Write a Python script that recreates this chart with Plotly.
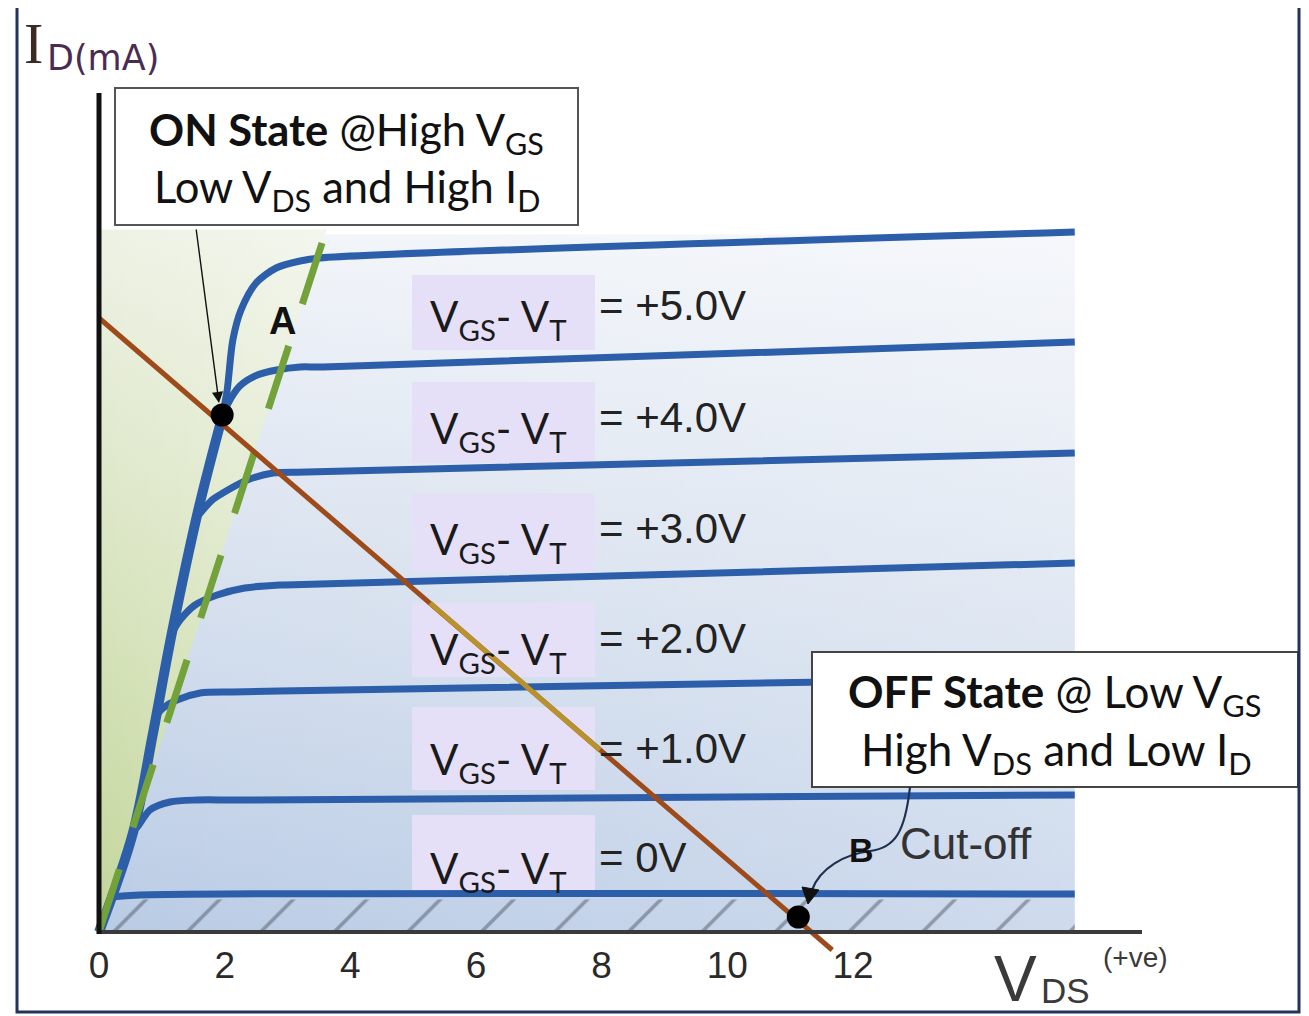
import plotly.graph_objects as go

# ---------------- data (V_DS in volts, I_D in mA) ----------------
VDS_TICKS = [0, 2, 4, 6, 8, 10, 12]
GATE_LABELS = ["+5.0V", "+4.0V", "+3.0V", "+2.0V", "+1.0V", "0V"]

# common rising (ohmic) edge of the characteristic curves
OHMIC_V = [0.0, 0.54, 0.86, 1.16, 1.58, 1.96]
OHMIC_I = [0.0, 3.96, 7.96, 11.96, 16.88, 20.6]

# output characteristics, VGS - VT = +5 ... 0 V, plus cut-off leakage curve
C5_V = [1.96, 2.04, 2.13, 2.26, 2.50, 2.82, 3.20, 3.52, 15.53]
C5_I = [20.6, 21.68, 23.68, 24.88, 25.96, 26.56, 26.84, 26.96, 28.0]
C4_V = [1.96, 2.04, 2.24, 2.52, 2.83, 3.20, 3.57, 15.53]
C4_I = [20.6, 21.08, 21.84, 22.28, 22.48, 22.6, 22.6, 23.6]
C3_V = [1.56, 1.80, 1.97, 2.36, 2.77, 3.31, 15.53]
C3_I = [16.6, 17.28, 17.56, 18.08, 18.36, 18.4, 19.16]
C2_V = [1.16, 1.29, 1.53, 1.88, 2.32, 2.88, 3.52, 15.53]
C2_I = [11.96, 12.48, 13.08, 13.48, 13.76, 13.88, 13.92, 14.76]
C1_V = [0.92, 1.02, 1.24, 1.61, 2.13, 2.88, 15.53]
C1_I = [8.68, 8.96, 9.28, 9.56, 9.6, 9.64, 10.16]
C0_V = [0.55, 0.61, 0.81, 1.13, 1.56, 2.24, 15.53]
C0_I = [4.08, 4.2, 4.88, 5.2, 5.28, 5.28, 5.48]
CUT_V = [0.19, 0.65, 15.53]
CUT_I = [1.4, 1.48, 1.52]

# saturation boundary (VDS = VGS - VT), dashed green
SAT_V = [0.0, 3.55]
SAT_I = [0.0, 27.56]

# load line and the golden-tinted stretch of it
LOAD_V = [0.0, 11.67]
LOAD_I = [24.56, -0.72]
LOAD_TINT_V = [5.27, 7.97]
LOAD_TINT_I = [13.16, 7.28]

# operating points: A (ON) and B (OFF)
Q_V = [1.96, 11.13]
Q_I = [20.68, 0.6]

# shaded regions
OHMIC_REGION_V = [0.0, 3.62, 0.0, 0.0]
OHMIC_REGION_I = [0.0, 28.1, 28.1, 0.0]
ACTIVE_REGION_V = [0.0, 15.53, 15.53, 0.0, 0.0]
ACTIVE_REGION_I = [0.0, 0.0, 27.9, 27.9, 0.0]
CUTOFF_REGION_V = [0.0, 15.53, 15.53, 0.0, 0.0]
CUTOFF_REGION_I = [0.0, 0.0, 1.3, 1.3, 0.0]

# ---------------- layout helpers (pixel geometry of the page) ----------------
PAGE_W, PAGE_H = 1309, 1016
OFF = 8                               # default body margin of the html page
W, H = PAGE_W - OFF, PAGE_H - OFF     # figure size
X0, Y0 = 99, 932                      # page-pixel position of the origin
SX, SY = 62.83, 25.0                  # px per volt, px per mA


def px2v(px):
    return (px - X0) / SX


def py2i(py):
    return (Y0 - py) / SY


def pxp(px):
    return (px - OFF) / W


def pyp(py):
    return 1 - (py - OFF) / H


BLUE = "#2c5eaa"
fig = go.Figure()

# background of the characteristic area
fig.add_trace(go.Scatter(
    x=ACTIVE_REGION_V, y=ACTIVE_REGION_I, mode="none", fill="toself",
    fillgradient=dict(type="vertical", colorscale=[[0, "#b9cbe5"], [0.55, "#d9e2ef"], [1, "#f1f4f9"]]),
    hoverinfo="skip", showlegend=False))
fig.add_trace(go.Scatter(
    x=ACTIVE_REGION_V, y=ACTIVE_REGION_I, mode="none", fill="toself",
    fillgradient=dict(type="horizontal", colorscale=[[0, "rgba(255,255,255,0)"], [1, "rgba(255,255,255,0.3)"]]),
    hoverinfo="skip", showlegend=False))
# ohmic (green) region
fig.add_trace(go.Scatter(
    x=OHMIC_REGION_V, y=OHMIC_REGION_I, mode="none", fill="toself",
    fillgradient=dict(type="vertical", colorscale=[[0, "#c3d69a"], [0.5, "#d8e4bf"], [1, "#eef2e5"]]),
    hoverinfo="skip", showlegend=False))
fig.add_trace(go.Scatter(
    x=OHMIC_REGION_V, y=OHMIC_REGION_I, mode="none", fill="toself",
    fillgradient=dict(type="horizontal", colorscale=[[0, "rgba(255,255,255,0)"], [1, "rgba(255,255,255,0.3)"]]),
    hoverinfo="skip", showlegend=False))
# hatched cut-off strip
fig.add_trace(go.Scatter(
    x=CUTOFF_REGION_V, y=CUTOFF_REGION_I, mode="none", fill="toself",
    fillcolor="rgba(0,0,0,0)",
    fillpattern=dict(shape="/", size=52, solidity=0.07, fgcolor="#4f5765", bgcolor="rgba(0,0,0,0)"),
    hoverinfo="skip", showlegend=False))

# lavender label backgrounds
BOX_X = (412, 595)
BOX_ROWS = [(275, 350), (382, 463), (493, 572), (603, 677), (707, 790), (815, 891)]
bx, by = [], []
for top, bot in BOX_ROWS:
    bx += [px2v(BOX_X[0]), px2v(BOX_X[1]), px2v(BOX_X[1]), px2v(BOX_X[0]), px2v(BOX_X[0]), None]
    by += [py2i(bot), py2i(bot), py2i(top), py2i(top), py2i(bot), None]
fig.add_trace(go.Scatter(x=bx, y=by, mode="none", fill="toself", fillcolor="#e5e0f8",
                         hoverinfo="skip", showlegend=False))

# characteristic curves
fig.add_trace(go.Scatter(x=OHMIC_V, y=OHMIC_I, mode="lines", line=dict(color=BLUE, width=10, shape="spline"),
                         hoverinfo="skip", showlegend=False))
for cv, ci in [(C5_V, C5_I), (C4_V, C4_I), (C3_V, C3_I), (C2_V, C2_I),
               (C1_V, C1_I), (C0_V, C0_I), (CUT_V, CUT_I)]:
    fig.add_trace(go.Scatter(x=cv, y=ci, mode="lines",
                             line=dict(color=BLUE, width=7, shape="spline", smoothing=0.8),
                             hoverinfo="skip", showlegend=False))

# saturation boundary
fig.add_trace(go.Scatter(x=SAT_V, y=SAT_I, mode="lines",
                         line=dict(color="#74a23a", width=7, dash="66px,44px"),
                         hoverinfo="skip", showlegend=False))

# load line
fig.add_trace(go.Scatter(x=LOAD_V, y=LOAD_I, mode="lines", line=dict(color="#9e4b1c", width=5),
                         hoverinfo="skip", showlegend=False))
fig.add_trace(go.Scatter(x=LOAD_TINT_V, y=LOAD_TINT_I, mode="lines", line=dict(color="#b8922c", width=5),
                         hoverinfo="skip", showlegend=False))

# operating points
fig.add_trace(go.Scatter(x=Q_V, y=Q_I, mode="markers", marker=dict(color="black", size=23),
                         hoverinfo="skip", showlegend=False))

shapes = []
# axes lines
shapes.append(dict(type="line", xref="paper", yref="paper", x0=pxp(99), x1=pxp(1142), y0=pyp(932), y1=pyp(932),
                   line=dict(color="#3a3a3a", width=4), layer="above"))
shapes.append(dict(type="line", xref="paper", yref="paper", x0=pxp(99), x1=pxp(99), y0=pyp(93), y1=pyp(934),
                   line=dict(color="#111111", width=5), layer="above"))
# ON / OFF boxes
shapes.append(dict(type="rect", xref="paper", yref="paper", x0=pxp(115), x1=pxp(578), y0=pyp(225), y1=pyp(88),
                   fillcolor="white", line=dict(color="#555555", width=2), layer="above"))
shapes.append(dict(type="rect", xref="paper", yref="paper", x0=pxp(812), x1=pxp(1298), y0=pyp(787), y1=pyp(652),
                   fillcolor="white", line=dict(color="#444444", width=2), layer="above"))
# connector from OFF box to point B
path = "M {},{} C {},{} {},{} {},{} C {},{} {},{} {},{}".format(
    pxp(910), pyp(787), pxp(905), pyp(832), pxp(895), pyp(848), pxp(870), pyp(851),
    pxp(845), pyp(854), pxp(820), pyp(868), pxp(812), pyp(890))
shapes.append(dict(type="path", xref="paper", yref="paper", path=path,
                   line=dict(color="#1f3050", width=2.2), layer="above"))
tri = "M {},{} L {},{} L {},{} Z".format(pxp(802), pyp(887), pxp(819), pyp(890), pxp(808), pyp(904))
shapes.append(dict(type="path", xref="paper", yref="paper", path=tri, fillcolor="#111111",
                   line=dict(color="#111111", width=1), layer="above"))
# outer frame
shapes.append(dict(type="rect", xref="paper", yref="paper", x0=pxp(17), x1=pxp(1299), y0=pyp(1012), y1=pyp(4),
                   line=dict(color="#22345a", width=3), fillcolor="rgba(0,0,0,0)", layer="above"))

annotations = []


def ann(text, x, y, size, family, color="#1a1a1a", xanchor="center", yanchor="middle"):
    annotations.append(dict(text=text, x=pxp(x), y=pyp(y), xref="paper", yref="paper", showarrow=False,
                            xanchor=xanchor, yanchor=yanchor,
                            font=dict(size=size, family=family, color=color)))


LAB_ROWS = [305, 417, 528, 638, 748, 857]
for row, lab in zip(LAB_ROWS, GATE_LABELS):
    ann("V<sub>GS</sub>- V<sub>T</sub>", 498, row + 14, 42, "Lato")
    ann("= " + lab, 597, row, 42, "Liberation Sans", color="#222222", xanchor="left")

# ON / OFF texts
ann("<b>ON State</b> @High V<sub>GS</sub>", 346, 132, 43.5, "Lato", color="#111111")
ann("Low V<sub>DS</sub> and High I<sub>D</sub>", 347, 189, 43.5, "Lato", color="#111111")
ann("<b>OFF State</b> @ Low V<sub>GS</sub>", 1055, 694, 44, "Lato", color="#111111")
ann("High V<sub>DS</sub> and Low I<sub>D</sub>", 1056, 752, 44, "Lato", color="#111111")

# point labels
ann("<b>A</b>", 282, 321, 38, "Liberation Sans", color="#111111")
ann("<b>B</b>", 861, 850, 34, "Liberation Sans", color="#111111")
ann("Cut-off", 966, 843, 44, "Liberation Sans", color="#333333")

# axis titles
ann("I", 22, 44, 58, "Liberation Serif", color="#3a2a22", xanchor="left")
ann("D(mA)", 45, 58, 35, "DejaVu Sans", color="#4a2c52", xanchor="left")
ann("V", 992, 979, 64, "Liberation Sans", color="#3a3a3a", xanchor="left")
ann("DS", 1039, 990, 35, "Liberation Sans", color="#3a3a3a", xanchor="left")
ann("(+ve)", 1135, 957, 28, "Liberation Sans", color="#3a3a3a")

# arrow to point A
annotations.append(dict(x=pxp(219), y=pyp(403), xref="paper", yref="paper", ax=196 - 219, ay=228 - 403,
                        showarrow=True, arrowhead=2, arrowsize=1.6, arrowwidth=1.4, arrowcolor="#111111",
                        text=""))

fig.update_layout(
    width=W, height=H,
    margin=dict(l=0, r=0, t=0, b=0),
    paper_bgcolor="white", plot_bgcolor="white",
    showlegend=False,
    xaxis=dict(range=[px2v(OFF), px2v(PAGE_W)], domain=[0, 1], anchor="free", position=pyp(932),
               tickvals=VDS_TICKS, ticks="outside", ticklen=1, tickcolor="rgba(0,0,0,0)",
               showline=False, showgrid=False, zeroline=False,
               automargin=False, fixedrange=True,
               tickfont=dict(family="Liberation Sans", size=37, color="#2a2a2a")),
    yaxis=dict(range=[py2i(PAGE_H), py2i(OFF)], domain=[0, 1], visible=False, automargin=False, fixedrange=True),
    shapes=shapes,
    annotations=annotations,
)

fig.write_html("out.html", config={"displayModeBar": False})
